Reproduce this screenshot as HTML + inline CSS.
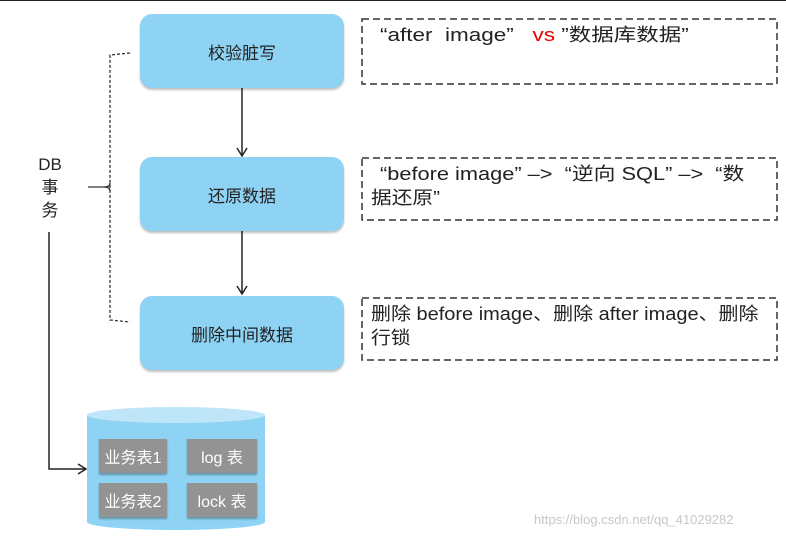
<!DOCTYPE html>
<html><head><meta charset="utf-8"><style>
body{margin:0;width:786px;height:536px;background:#fff;position:relative;overflow:hidden;font-family:"Liberation Sans","Noto Sans CJK SC",sans-serif;}
.b{position:absolute;left:140px;width:204px;height:74px;background:#8fd3f4;border-radius:12px;box-shadow:0 2px 2px rgba(0,0,0,.25);display:flex;align-items:center;justify-content:center;font-size:17px;color:#222;}
.l{position:absolute;font-size:18px;color:#222;line-height:24px;white-space:nowrap;transform-origin:0 0;}
.t{position:absolute;width:68px;height:34px;background:#939393;color:#fff;font-size:16px;display:flex;align-items:center;justify-content:center;box-shadow:0 2px 2px rgba(0,0,0,.3);}
</style></head><body>
<div style="position:absolute;left:0;top:0;width:786px;height:1px;background:#222"></div>
<svg width="786" height="536" style="position:absolute;left:0;top:0">
<defs><marker id="a" markerWidth="12" markerHeight="12" refX="10" refY="6" orient="auto" markerUnits="userSpaceOnUse"><path d="M2,1 L10,6 L2,11" fill="none" stroke="#222" stroke-width="1.5"/></marker></defs>
<g fill="none" stroke="#333" stroke-width="1.5" stroke-dasharray="7,4">
<rect x="362" y="19" width="415" height="65"/>
<rect x="362" y="158" width="415" height="62"/>
<rect x="362" y="298" width="415" height="62"/>
</g>
<line x1="242" y1="88" x2="242" y2="156" stroke="#222" stroke-width="1.5" marker-end="url(#a)"/>
<line x1="242" y1="231" x2="242" y2="294" stroke="#222" stroke-width="1.5" marker-end="url(#a)"/>
<path d="M130,53 L110,55 L110,320 L130,322" fill="none" stroke="#333" stroke-width="1.3" stroke-dasharray="3,2"/>
<path d="M88,187 L104,187 Q110,187 110,183 M104,187 Q110,187 110,191" fill="none" stroke="#333" stroke-width="1.3"/>
<path d="M49,232 L49,469 L86,469" fill="none" stroke="#222" stroke-width="1.5" marker-end="url(#a)"/>
<path d="M87,415 L87,522 A89,8 0 0 0 265,522 L265,415 Z" fill="#8fd3f4"/>
<ellipse cx="176" cy="415" rx="89" ry="8" fill="#bfe6f8"/>
</svg>
<div style="position:absolute;left:36px;top:153px;width:28px;text-align:center;font-size:17px;line-height:23px;color:#222">DB<br>事<br>务</div>
<div class="b" style="top:14px">校验脏写</div>
<div class="b" style="top:157px">还原数据</div>
<div class="b" style="top:296px">删除中间数据</div>
<div class="l" style="left:380px;top:23px;transform:scaleX(1.25)">“after&nbsp; image” &nbsp; <span style="color:#e00">vs</span> ”数据库数据”</div>
<div class="l" style="left:380px;top:162px;transform:scaleX(1.21)">“before image” –&gt;&nbsp; “逆向 SQL” –&gt;&nbsp; “数</div>
<div class="l" style="left:371px;top:186px;transform:scaleX(1.15)">据还原”</div>
<div class="l" style="left:371px;top:302px;transform:scaleX(1.11)">删除 before image、删除 after image、删除</div>
<div class="l" style="left:371px;top:326px;transform:scaleX(1.1)">行锁</div>
<div class="t" style="left:99px;top:439px">业务表1</div>
<div class="t" style="left:187px;top:439px;width:70px">log 表</div>
<div class="t" style="left:99px;top:483px">业务表2</div>
<div class="t" style="left:187px;top:483px;width:70px">lock 表</div>
<div style="position:absolute;left:534px;top:512px;font-size:13px;color:#c8c8c8">https://blog.csdn.net/qq_41029282</div>
</body></html>
